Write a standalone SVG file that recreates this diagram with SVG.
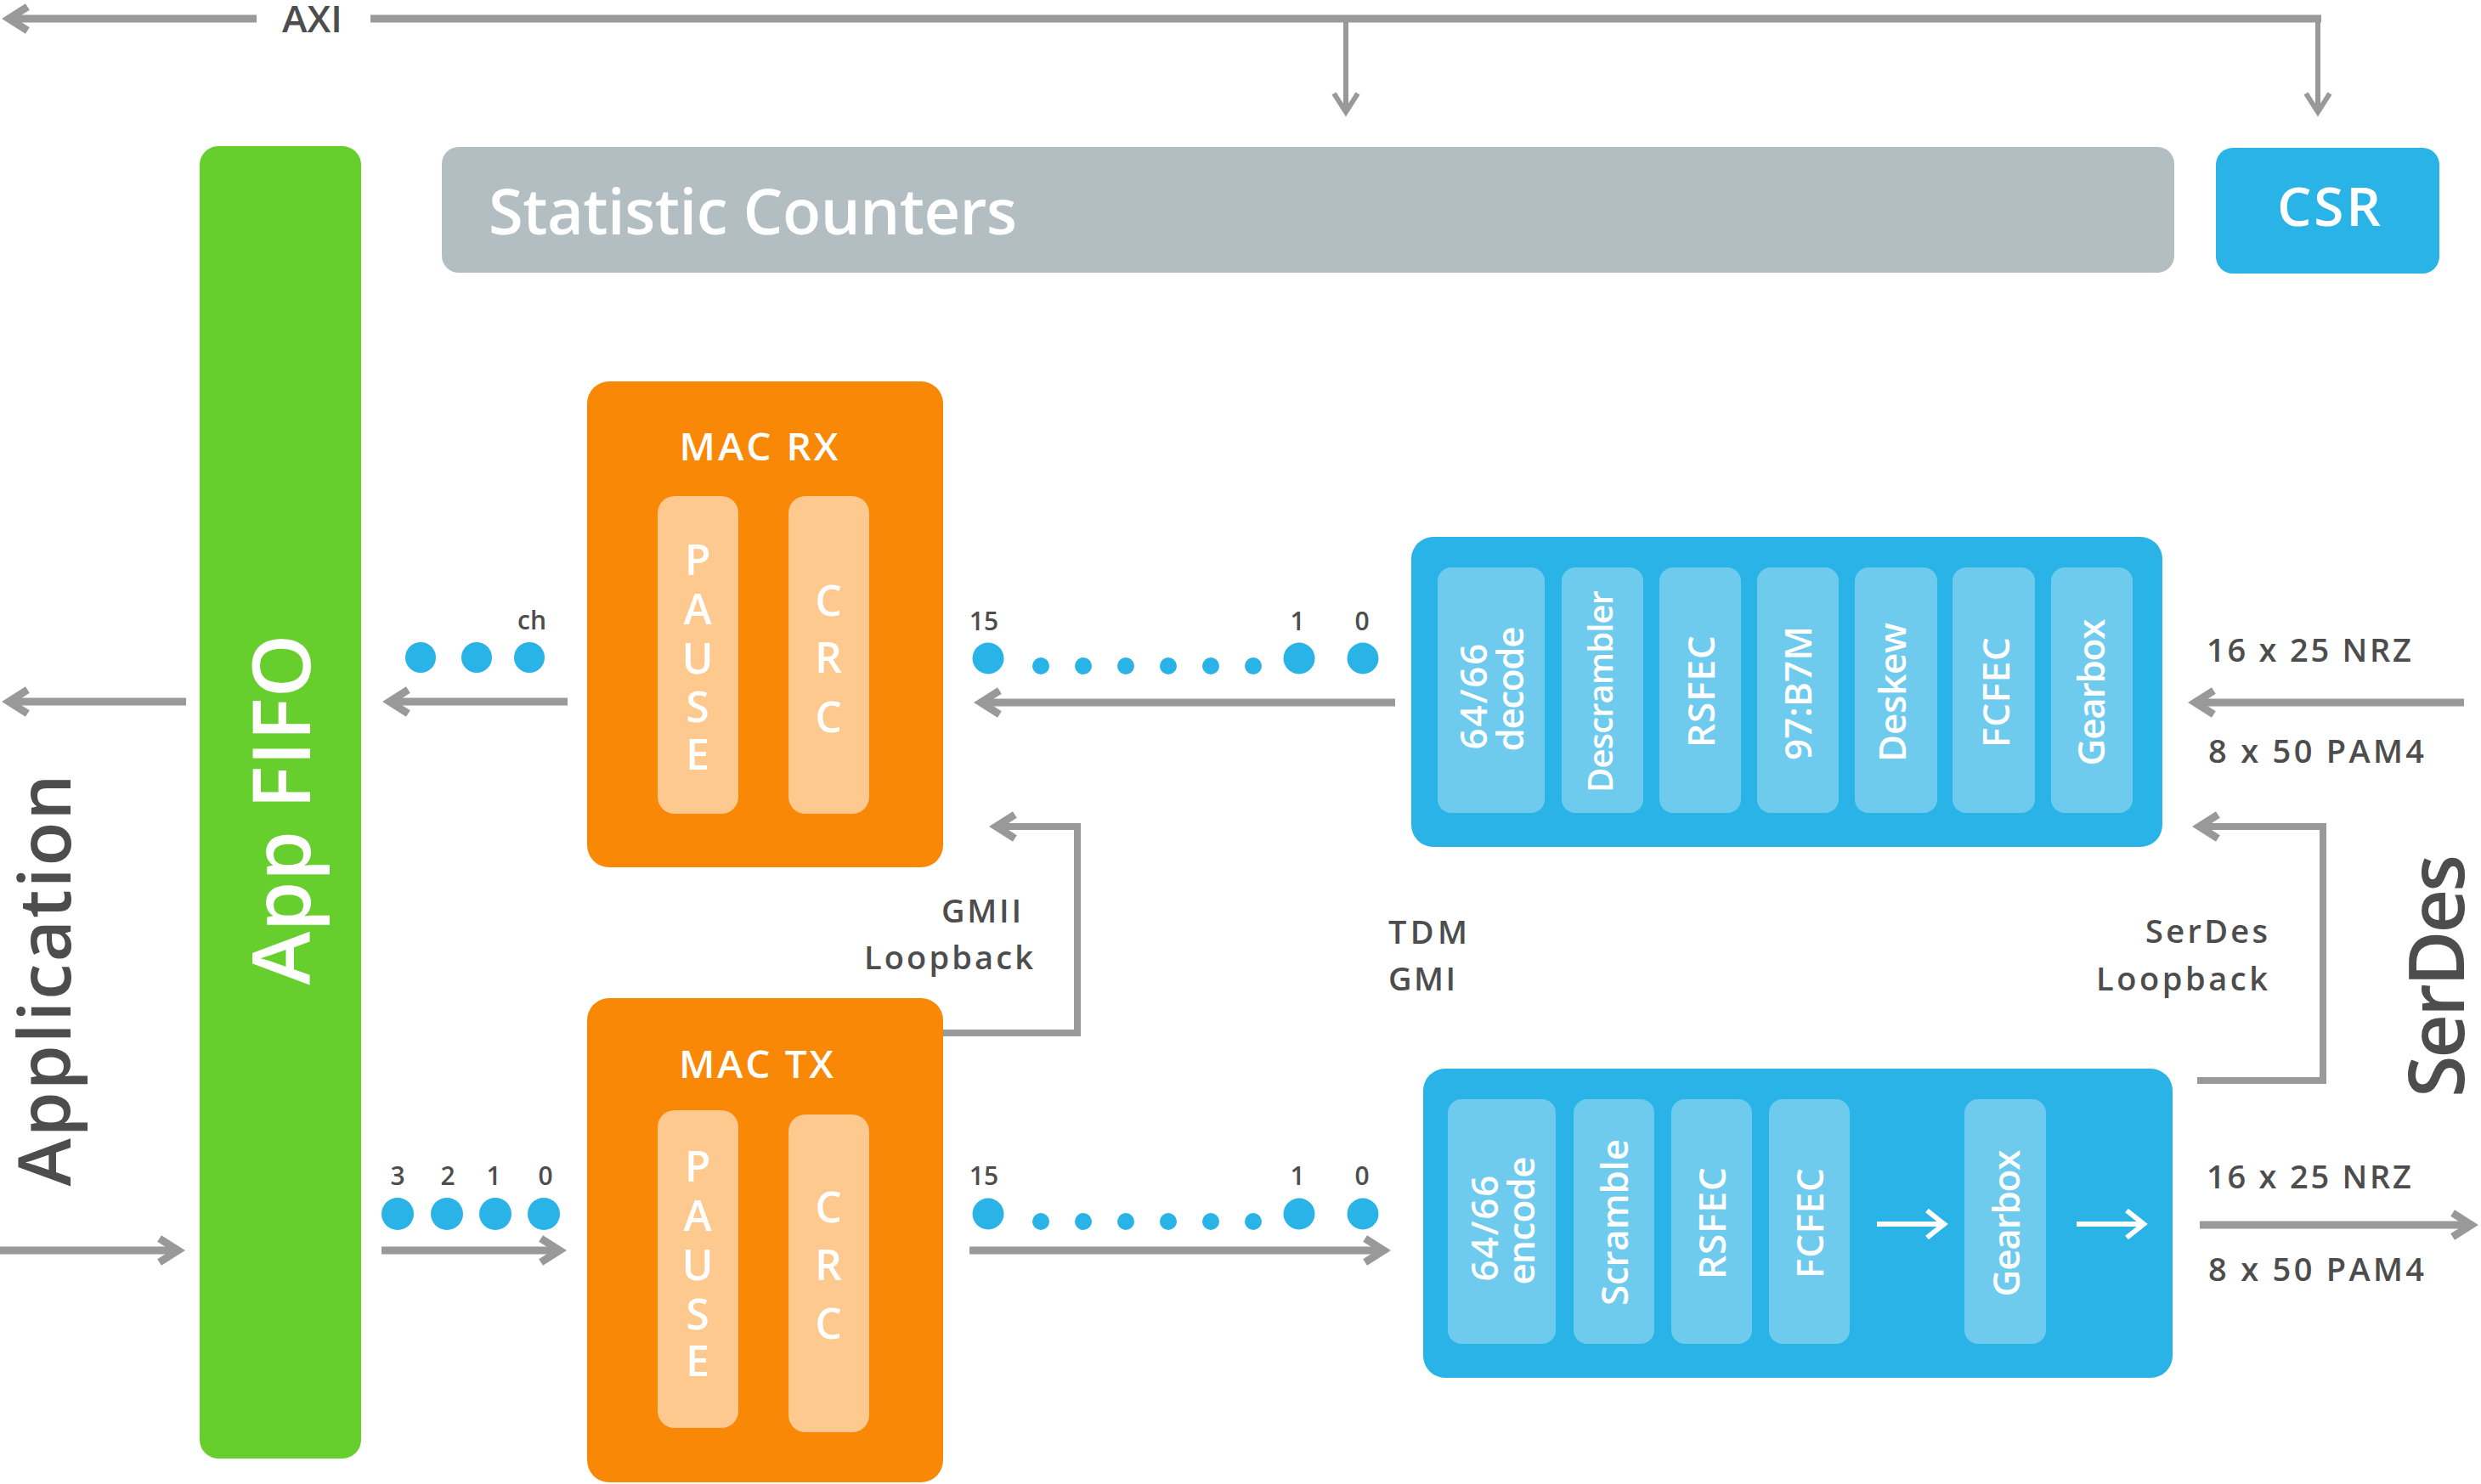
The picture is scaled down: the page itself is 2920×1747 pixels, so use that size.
<svg xmlns="http://www.w3.org/2000/svg" width="2920" height="1747" viewBox="0 0 2920 1747">
<defs>
<style>
.t{font-family:"Open Sans","DejaVu Sans",sans-serif;font-weight:600}
.w{fill:#ffffff}
.d{fill:#4d4d4d}
.ln{fill:none;stroke:#999999;stroke-width:9}
.lt{fill:none;stroke:#999999;stroke-width:6}
.lb{fill:none;stroke:#999999;stroke-width:8}
.dot{fill:#29b3e6}
.orange{fill:#f98806}
.lorange{fill:#fdc98e}
.blue{fill:#29b3e6}
.lblue{fill:#6fcbee}
.pcs{font-size:44px}
.lbl{font-size:38px}
.num{font-size:30px}
.pl{font-size:50px;text-anchor:middle}
.warr{fill:none;stroke:#ffffff;stroke-width:6}
</style>
<marker id="ah" markerUnits="userSpaceOnUse" orient="auto" overflow="visible" markerWidth="1" markerHeight="1" refX="0" refY="0">
<path d="M -13.4 -14 L 8.6 0 L -13.4 14" fill="none" stroke="#999999" stroke-width="9"/>
</marker>
<marker id="ahs" markerUnits="userSpaceOnUse" orient="auto" overflow="visible" markerWidth="1" markerHeight="1" refX="0" refY="0">
<path d="M -16 -14 L 6 0 L -16 14" fill="none" stroke="#999999" stroke-width="6"/>
</marker>
</defs>
<rect width="2920" height="1747" fill="#ffffff"/>

<g id="connectors">
<path class="ln" d="M 302 22 L 19 22" marker-end="url(#ah)"/>
<path class="ln" d="M 436 22 L 2732 22"/>
<path class="lt" d="M 1584 22 L 1584 126" marker-end="url(#ahs)"/>
<path class="lt" d="M 2728 22 L 2728 126" marker-end="url(#ahs)"/>
<path class="ln" d="M 219 826 L 19 826" marker-end="url(#ah)"/>
<path class="ln" d="M 668 826 L 467 826" marker-end="url(#ah)"/>
<path class="ln" d="M 1642 827 L 1163 827" marker-end="url(#ah)"/>
<path class="ln" d="M 2900 827 L 2592 827" marker-end="url(#ah)"/>
<path class="ln" d="M 0 1472 L 201 1472" marker-end="url(#ah)"/>
<path class="ln" d="M 449 1472 L 650 1472" marker-end="url(#ah)"/>
<path class="ln" d="M 1141 1472 L 1620 1472" marker-end="url(#ah)"/>
<path class="ln" d="M 2589 1442 L 2900 1442" marker-end="url(#ah)"/>
<path class="lb" d="M 1110 1216 L 1268 1216 L 1268 973 L 1181 973" marker-end="url(#ah)"/>
<path class="lb" d="M 2586 1272 L 2734 1272 L 2734 973 L 2597 973" marker-end="url(#ah)"/>
</g>

<g id="axi-label"><text class="t d" x="332" y="38" font-size="43" textLength="71" lengthAdjust="spacingAndGlyphs">AXI</text></g>

<g id="stat-counters">
<rect x="520" y="173" width="2039" height="148" rx="20" fill="#b3bec2"/>
<text class="t w" x="575" y="276" font-size="74" textLength="622">Statistic Counters</text>
</g>

<g id="csr">
<rect x="2608" y="174" width="263" height="148" rx="20" class="blue"/>
<text class="t w" x="2741" y="266" font-size="64" text-anchor="middle" textLength="122">CSR</text>
</g>

<g id="app-fifo">
<rect x="235" y="172" width="190" height="1545" rx="22" fill="#66cf2e"/>
<text class="t w" transform="translate(365 953) rotate(-90)" font-size="95" text-anchor="middle" textLength="413">App FIFO</text>
</g>

<g id="application">
<text class="t d" transform="translate(83 1154) rotate(-90)" font-size="85" font-weight="700" text-anchor="middle" textLength="485">Application</text>
</g>

<g id="serdes">
<text class="t d" transform="translate(2900 1149) rotate(-90)" font-size="90" font-weight="700" text-anchor="middle" textLength="286">SerDes</text>
</g>

<g id="mac-rx">
<rect x="691" y="449" width="419" height="572" rx="26" class="orange"/>
<text class="t w" x="893" y="542" font-size="46" text-anchor="middle" textLength="187">MAC RX</text>
<rect x="774" y="584" width="95" height="374" rx="20" class="lorange"/>
<rect x="928" y="584" width="95" height="374" rx="20" class="lorange"/>
<text class="t w pl" x="821" y="677">P</text>
<text class="t w pl" x="821" y="735">A</text>
<text class="t w pl" x="821" y="793">U</text>
<text class="t w pl" x="821" y="850">S</text>
<text class="t w pl" x="821" y="906">E</text>
<text class="t w pl" x="975" y="725">C</text>
<text class="t w pl" x="975" y="792">R</text>
<text class="t w pl" x="975" y="862">C</text>
</g>

<g id="mac-tx">
<rect x="691" y="1175" width="419" height="570" rx="26" class="orange"/>
<text class="t w" x="890" y="1269" font-size="46" text-anchor="middle" textLength="182">MAC TX</text>
<rect x="774" y="1307" width="95" height="374" rx="20" class="lorange"/>
<rect x="928" y="1312" width="95" height="374" rx="20" class="lorange"/>
<text class="t w pl" x="821" y="1391">P</text>
<text class="t w pl" x="821" y="1449">A</text>
<text class="t w pl" x="821" y="1507">U</text>
<text class="t w pl" x="821" y="1565">S</text>
<text class="t w pl" x="821" y="1620">E</text>
<text class="t w pl" x="975" y="1439">C</text>
<text class="t w pl" x="975" y="1507">R</text>
<text class="t w pl" x="975" y="1576">C</text>
</g>

<g id="pcs-rx">
<rect x="1661" y="632" width="884" height="365" rx="26" class="blue"/>
<rect x="1692" y="668" width="126" height="289" rx="16" class="lblue"/>
<rect x="1838" y="668" width="96" height="289" rx="16" class="lblue"/>
<rect x="1953" y="668" width="96" height="289" rx="16" class="lblue"/>
<rect x="2068" y="668" width="96" height="289" rx="16" class="lblue"/>
<rect x="2183" y="668" width="97" height="289" rx="16" class="lblue"/>
<rect x="2298" y="668" width="97" height="289" rx="16" class="lblue"/>
<rect x="2414" y="668" width="96" height="289" rx="16" class="lblue"/>
<text class="t w pcs" transform="translate(1750 820) rotate(-90)" text-anchor="middle" textLength="125">64/66</text>
<text class="t w pcs" transform="translate(1793 811) rotate(-90)" text-anchor="middle" textLength="147">decode</text>
<text class="t w" transform="translate(1898 814) rotate(-90)" font-size="40" text-anchor="middle" textLength="238">Descrambler</text>
<text class="t w pcs" transform="translate(2018 814) rotate(-90)" text-anchor="middle" textLength="132">RSFEC</text>
<text class="t w pcs" transform="translate(2132 816) rotate(-90)" text-anchor="middle" textLength="158">97:B7M</text>
<text class="t w pcs" transform="translate(2243 815) rotate(-90)" text-anchor="middle" textLength="164">Deskew</text>
<text class="t w pcs" transform="translate(2365 815) rotate(-90)" text-anchor="middle" textLength="130">FCFEC</text>
<text class="t w pcs" transform="translate(2477 815) rotate(-90)" text-anchor="middle" textLength="173">Gearbox</text>
</g>

<g id="pcs-tx">
<rect x="1675" y="1258" width="882" height="364" rx="26" class="blue"/>
<rect x="1704" y="1294" width="127" height="288" rx="16" class="lblue"/>
<rect x="1852" y="1294" width="95" height="288" rx="16" class="lblue"/>
<rect x="1967" y="1294" width="95" height="288" rx="16" class="lblue"/>
<rect x="2082" y="1294" width="95" height="288" rx="16" class="lblue"/>
<rect x="2312" y="1294" width="96" height="288" rx="16" class="lblue"/>
<text class="t w pcs" transform="translate(1763 1446) rotate(-90)" text-anchor="middle" textLength="125">64/66</text>
<text class="t w pcs" transform="translate(1806 1437) rotate(-90)" text-anchor="middle" textLength="151">encode</text>
<text class="t w pcs" transform="translate(1916 1439) rotate(-90)" text-anchor="middle" textLength="196">Scramble</text>
<text class="t w pcs" transform="translate(2031 1440) rotate(-90)" text-anchor="middle" textLength="132">RSFEC</text>
<text class="t w pcs" transform="translate(2146 1440) rotate(-90)" text-anchor="middle" textLength="130">FCFEC</text>
<text class="t w pcs" transform="translate(2377 1440) rotate(-90)" text-anchor="middle" textLength="173">Gearbox</text>
<path class="warr" d="M 2209 1441 H 2286 M 2268 1425 L 2288 1441 L 2268 1457"/>
<path class="warr" d="M 2444 1441 H 2521 M 2503 1425 L 2523 1441 L 2503 1457"/>
</g>

<g id="rx-channels-left">
<text class="t d num" x="626" y="741" text-anchor="middle">ch</text>
<circle class="dot" cx="495" cy="774" r="18"/>
<circle class="dot" cx="561" cy="774" r="18"/>
<circle class="dot" cx="623" cy="774" r="18"/>
</g>

<g id="tx-channels-left">
<text class="t d num" x="468" y="1395" text-anchor="middle">3</text>
<text class="t d num" x="527" y="1395" text-anchor="middle">2</text>
<text class="t d num" x="581" y="1395" text-anchor="middle">1</text>
<text class="t d num" x="642" y="1395" text-anchor="middle">0</text>
<circle class="dot" cx="468" cy="1429" r="19"/>
<circle class="dot" cx="526" cy="1429" r="19"/>
<circle class="dot" cx="583" cy="1429" r="19"/>
<circle class="dot" cx="640" cy="1429" r="19"/>
</g>

<g id="rx-lanes">
<text class="t d num" x="1158" y="742" text-anchor="middle">15</text>
<text class="t d num" x="1527" y="742" text-anchor="middle">1</text>
<text class="t d num" x="1603" y="742" text-anchor="middle">0</text>
<circle class="dot" cx="1163" cy="775" r="18.5"/>
<circle class="dot" cx="1225" cy="784" r="10"/>
<circle class="dot" cx="1275" cy="784" r="10"/>
<circle class="dot" cx="1325" cy="784" r="10"/>
<circle class="dot" cx="1375" cy="784" r="10"/>
<circle class="dot" cx="1425" cy="784" r="10"/>
<circle class="dot" cx="1475" cy="784" r="10"/>
<circle class="dot" cx="1529" cy="775" r="18.5"/>
<circle class="dot" cx="1604" cy="775" r="18.5"/>
</g>

<g id="tx-lanes">
<text class="t d num" x="1158" y="1395" text-anchor="middle">15</text>
<text class="t d num" x="1527" y="1395" text-anchor="middle">1</text>
<text class="t d num" x="1603" y="1395" text-anchor="middle">0</text>
<circle class="dot" cx="1163" cy="1429" r="18.5"/>
<circle class="dot" cx="1225" cy="1438" r="10"/>
<circle class="dot" cx="1275" cy="1438" r="10"/>
<circle class="dot" cx="1325" cy="1438" r="10"/>
<circle class="dot" cx="1375" cy="1438" r="10"/>
<circle class="dot" cx="1425" cy="1438" r="10"/>
<circle class="dot" cx="1475" cy="1438" r="10"/>
<circle class="dot" cx="1529" cy="1429" r="18.5"/>
<circle class="dot" cx="1604" cy="1429" r="18.5"/>
</g>

<g id="labels">
<text class="t d lbl" x="1108" y="1086" textLength="94">GMII</text>
<text class="t d lbl" x="1017" y="1141" textLength="199">Loopback</text>
<text class="t d lbl" x="1634" y="1111" textLength="93">TDM</text>
<text class="t d lbl" x="1634" y="1166" textLength="79">GMI</text>
<text class="t d lbl" x="2525" y="1110" textLength="144">SerDes</text>
<text class="t d lbl" x="2467" y="1166" textLength="202">Loopback</text>
<text class="t d lbl" x="2597" y="779" textLength="241">16 x 25 NRZ</text>
<text class="t d lbl" x="2599" y="898" textLength="254">8 x 50 PAM4</text>
<text class="t d lbl" x="2597" y="1399" textLength="241">16 x 25 NRZ</text>
<text class="t d lbl" x="2599" y="1508" textLength="254">8 x 50 PAM4</text>
</g>
</svg>
